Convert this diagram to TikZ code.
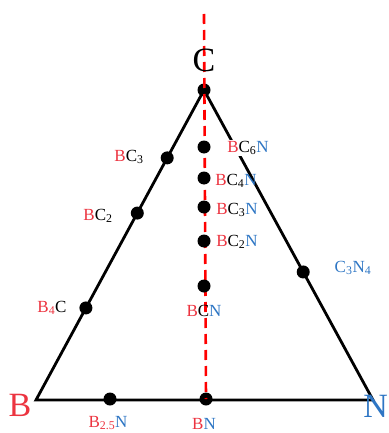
\documentclass[tikz,border=0pt]{standalone}
\usepackage{fontspec}
\setmainfont{Liberation Serif}
\usetikzlibrary{calc}
\definecolor{ternRed}{RGB}{236,52,64}
\definecolor{ternBlue}{RGB}{46,118,196}
\newcommand{\rB}{\textcolor{ternRed}{B}}
\newcommand{\bN}{\textcolor{ternBlue}{N}}
\tikzset{
	ternEdge/.style={draw, line width=2.8pt, line join=miter},
	ternAxis/.style={draw=red, line width=2.6pt, dash pattern=on 10pt off 6pt},
	ternDot/.style={circle, fill=black, inner sep=0pt, minimum size=13pt},
	ternLabel/.style={inner sep=1pt, font=\fontsize{17}{19}\selectfont},
	ternCorner/.style={inner sep=0pt, font=\fontsize{34}{36}\selectfont}
}
\begin{document}
\begin{tikzpicture}[x=1pt, y=-1pt]
	\useasboundingbox (0,0) rectangle (388,433);

	% corners
	\coordinate (B) at (36,400);
	\coordinate (C) at (204,90);
	\coordinate (N) at (373,400);
	\coordinate (top) at (204,14);

	% triangle
	\draw[ternEdge] (B) -- (C) -- (N) -- cycle;

	% dots on the edges
	\node[ternDot] (bc3) at ($(B)!0.781!(C)$) {};
	\node[ternDot] (bc2) at ($(B)!0.603!(C)$) {};
	\node[ternDot] (b4c) at ($(B)!0.297!(C)$) {};
	\node[ternDot] (c3n4) at ($(N)!0.413!(C)$) {};
	\node[ternDot] (b25n) at (110,399) {};
	\node[ternDot] (bn) at (206,399) {};
	\node[ternDot] (cdot) at (C) {};

	% dashed axis
	\draw[ternAxis] (top) -- (bn.center);

	% dots on the axis
	\node[ternDot] (bc6n) at (204,147) {};
	\node[ternDot] (bc4n) at (204,178) {};
	\node[ternDot] (bc3n) at (204,207) {};
	\node[ternDot] (bc2n) at (204,241) {};
	\node[ternDot] (bcn) at (204,286) {};

	% corner labels
	\node[ternCorner] (labC) at (204,60) {C};
	\node[ternCorner, text=ternRed] (labB) at (20,405) {B};
	\node[ternCorner, text=ternBlue, anchor=east] (labN) at (388,406) {N};

	% compound labels
	\node[ternLabel, fill=white] (labBCsixN) at (248,148) {\rB C\textsubscript{6}\bN};
	\node[ternLabel] (labBCfourN) at (236,181) {\rB C\textsubscript{4}\bN};
	\node[ternLabel] (labBCthreeN) at (237,210) {\rB C\textsubscript{3}\bN};
	\node[ternLabel] (labBCtwoN) at (237,242) {\rB C\textsubscript{2}\bN};
	\node[ternLabel] (labBCN) at (204,311) {\rB C\bN};
	\node[ternLabel] (labBCthree) at (129,157) {\rB C\textsubscript{3}};
	\node[ternLabel] (labBCtwo) at (98,216) {\rB C\textsubscript{2}};
	\node[ternLabel] (labBfourC) at (52,308) {\rB\textsubscript{\textcolor{ternRed}{4}}C};
	\node[ternLabel] (labBtwofiveN) at (108,423) {\rB\textsubscript{\textcolor{ternRed}{2.5}}\bN};
	\node[ternLabel] (labBN) at (204,424) {\rB\bN};
	\node[ternLabel, text=ternBlue] (labCthreeNfour) at (353,268) {C\textsubscript{3}N\textsubscript{4}};
\end{tikzpicture}
\end{document}
